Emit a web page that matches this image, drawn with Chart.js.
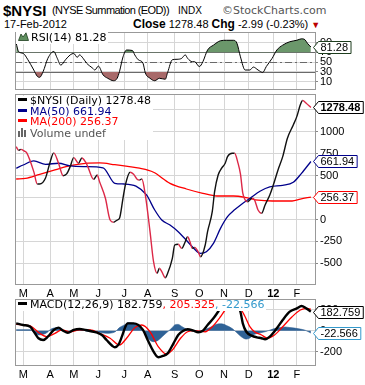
<!DOCTYPE html>
<html>
<head>
<meta charset="utf-8">
<title>$NYSI</title>
<script src="https://cdn.jsdelivr.net/npm/chart.js@4.4.1/dist/chart.umd.min.js"></script>
<style>
  html, body { margin: 0; padding: 0; background: #fff; }
  body { position: relative; width: 365px; height: 385px; overflow: hidden; font-family: Arial, "Liberation Sans", sans-serif; color: #000; }
  canvas { position: absolute; left: 0; }
  .t { position: absolute; white-space: nowrap; }
  .leg { position: absolute; background: #fff; font-family: "DejaVu Sans", Verdana, sans-serif; font-size: 11px; line-height: 10.7px; white-space: nowrap; padding-right: 2px; }
  .dash { display: inline-block; width: 9px; height: 3px; vertical-align: 3px; margin: 0 3px 0 2px; }
</style>
</head>
<body>
<div class="t" style="left:3px;top:2px;font-size:15px;font-weight:bold;">$NYSI</div>
<div class="t" style="left:52px;top:4px;font-size:11px;letter-spacing:-0.6px;">(NYSE Summation (EOD))</div>
<div class="t" style="left:178px;top:5px;font-size:10px;">INDX</div>
<div class="t" style="left:222px;top:4px;font-size:11px;color:#555;font-family:'DejaVu Sans',sans-serif;">©StockCharts.com</div>
<div class="t" style="left:4px;top:18px;font-size:11px;">17-Feb-2012</div>
<div class="t" style="left:133px;top:17px;font-size:11px;"><b style="font-size:12px">Close</b> 1278.48 <b style="font-size:12px">Chg</b> -2.99 (-0.23%) <span style="color:#b00;font-size:9px">&#9660;</span></div>

<canvas id="rsiChart" width="365" height="63" style="top:28px"></canvas>
<canvas id="mainChart" width="365" height="206" style="top:92px"></canvas>
<canvas id="macdChart" width="365" height="88" style="top:297px"></canvas>

<div class="leg" style="left:16px;top:32px;">
  <svg width="11" height="9" style="margin:0 2px 0 2px"><path d="M0.5 8.5 L3 2 L5 5 L8 0.8 L10.5 8.5 Z" fill="#5f8f5f" stroke="#1d3d1d" stroke-width="0.8"/></svg>RSI(14) 81.28
</div>
<div class="leg" style="left:16px;top:96px;">
  <div><i class="dash" style="background:#000"></i>$NYSI (Daily) 1278.48</div>
  <div style="color:#00008b"><i class="dash" style="background:#00008b"></i>MA(50) 661.94</div>
  <div style="color:#f00"><i class="dash" style="background:#f00"></i>MA(200) 256.37</div>
  <div style="color:#555"><svg width="11" height="9" style="margin:0 1px 0 2px"><rect x="0" y="3" width="2" height="6" fill="#666"/><rect x="3" y="0" width="2" height="9" fill="#666"/><rect x="6" y="2" width="2" height="7" fill="#666"/></svg>Volume undef</div>
</div>
<div class="leg" style="left:16px;top:300px;">
  <i class="dash" style="background:#000"></i>MACD(12,26,9) 182.759<span style="color:#f00">, 205.325</span><span style="color:#3399cc">, -22.566</span>
</div>

<script>
// trading-day index: 0 = 1-Mar-2011 ... 245 = 17-Feb-2012
var monthDays = [0, 23, 43, 64, 86, 106, 129, 150, 171, 192, 213, 233];
var monthLabels = ['M', 'A', 'M', 'J', 'J', 'A', 'S', 'O', 'N', 'D', '12', 'F'];

// $NYSI daily
var nysiDays = [-6, -4, -2, 1, 3, 9, 12, 14, 19, 23, 26, 30, 34, 37, 40, 43, 47, 50, 53, 55,
  60, 63, 65, 70, 74, 77, 80, 82, 85, 87, 91, 94, 97, 99, 101, 104, 108, 111, 114, 116,
  118, 121, 123, 127, 129, 132, 135, 138, 140, 142, 144, 146, 149, 151, 155, 157, 161, 163, 166, 169,
  172, 174, 178, 180, 183, 185, 187, 189, 191, 195, 197, 200, 203, 206, 210, 213, 217, 221, 225, 230,
  233, 236, 238, 241, 245];
var nysiValues = [830, 790, 800, 780, 760, 546, 405, 405, 474, 660, 760, 645, 500, 520, 603, 706, 642, 702, 657, 603,
  459, 508, 432, 242, -6, -32, -6, 14, 245, 394, 539, 516, 459, 451, 462, 280, -139, -482, -614, -557,
  -596, -665, -614, -443, -291, -283, -329, -254, -196, -254, -329, -318, -368, -425, -291, -139, 89, 317, 508, 585,
  642, 717, 756, 756, 640, 520, 300, 223, 203, 242, 223, 108, 71, 166, 280, 394, 565, 717, 927, 1079,
  1174, 1308, 1357, 1327, 1278.48];

// MA(50)
var ma50Days = [-6, 0, 9, 19, 30, 40, 53, 68, 78, 86, 96, 105, 112, 118, 125, 132, 138, 144, 151, 156,
  162, 168, 174, 180, 186, 193, 202, 210, 221, 230, 237, 245];
var ma50Values = [585, 622, 668, 630, 642, 611, 603, 590, 413, 405, 380, 280, 108, -6, -63, -139, -223, -311, -386, -368,
  -272, -101, 32, 110, 175, 240, 325, 372, 390, 425, 527, 661.94];

// MA(200)
var ma200Days = [-6, 2, 14, 27, 40, 53, 65, 78, 89, 99, 111, 125, 139, 153, 165, 179, 190, 200, 212, 229, 236, 245];
var ma200Values = [462, 470, 516, 565, 614, 640, 645, 625, 605, 585, 539, 413, 348, 299, 268, 268, 250, 220, 211, 211, 232, 256.37];

// RSI(14)
var rsiDays = [-6, -4, 0, 4, 9, 12, 14, 17, 21, 26, 29, 32, 36, 40, 43, 46, 48, 51, 54, 59,
  61, 64, 68, 72, 77, 80, 82, 85, 88, 93, 95, 98, 102, 104, 108, 112, 116, 121, 123, 127,
  131, 135, 138, 140, 144, 146, 150, 153, 157, 162, 168, 173, 179, 182, 185, 189, 193, 196, 200, 204,
  207, 212, 216, 221, 227, 233, 237, 240, 242, 245];
var rsiValues = [89, 72, 68, 55, 34, 21, 19, 31, 58, 72, 58, 44, 55, 65, 68, 60, 65, 58, 48, 38,
  34, 42, 24, 17, 12, 17, 31, 61, 75, 74, 65, 55, 48, 28, 17, 12, 17, 15, 29, 55,
  56, 58, 65, 58, 51, 51, 41, 51, 75, 85, 94, 95, 95, 89, 61, 34, 34, 40, 34, 29,
  41, 58, 75, 85, 92, 95, 98, 96, 89, 81.28];

// MACD(12,26,9)
var macdDays = [-6, 0, 6, 10, 13, 17, 21, 26, 30, 34, 38, 43, 48, 53, 57, 63, 67, 71, 76, 78,
  81, 84, 87, 89, 94, 98, 102, 106, 111, 115, 119, 123, 128, 132, 136, 140, 145, 149, 153, 157,
  162, 166, 169, 174, 179, 182, 185, 187, 190, 195, 199, 203, 206, 210, 216, 221, 227, 233, 237, 241, 245];
var macdValues = [70, 54, 38, -25, -72, -89, -57, 7, 29, 0, -19, 7, 16, 7, -3, -19, -41, -89, -146, -158,
  -136, -57, 38, 70, 70, 54, 7, -89, -200, -253, -241, -216, -120, -41, -3, 13, 0, -15, 0, 54,
  118, 181, 229, 275, 285, 260, 181, 70, -10, -50, -63, -72, -82, -57, 23, 102, 181, 213, 235, 213, 182.759];

var signalDays = [-6, 6, 14, 20, 27, 33, 40, 48, 57, 65, 74, 82, 88, 95, 101, 108, 115, 122, 127, 134,
  140, 146, 155, 161, 168, 172, 178, 183, 185, 189, 193, 197, 203, 208, 214, 221, 229, 236, 241, 245];
var signalValues = [61, 45, -25, -57, -25, 7, -10, 7, 7, -25, -72, -136, -72, 29, 54, -10, -152, -222, -184, -72,
  -10, 0, -10, 38, 133, 197, 250, 240, 213, 133, 38, -10, -41, -72, -41, 38, 133, 197, 213, 205.325];

var histDays = [-6, 6, 9, 13, 17, 20, 23, 26, 29, 31, 36, 38, 42, 46, 50, 54, 59, 63, 67, 71,
  76, 79, 82, 87, 89, 94, 98, 101, 104, 106, 111, 115, 119, 123, 127, 129, 132, 135, 139, 142,
  146, 149, 153, 156, 161, 164, 169, 173, 178, 182, 186, 190, 193, 197, 202, 206, 210, 214, 219, 223,
  227, 231, 236, 240, 245];
var histValues = [10, 10, -15, -40, -35, -20, 10, 25, 29, 15, -10, -15, 5, 10, 10, -5, -10, -15, -20, -25,
  -20, -5, 30, 60, 76, 70, 40, 10, -30, -70, -105, -90, -50, -10, 30, 55, 60, 40, 15, 5,
  -5, -10, -5, 15, 40, 60, 65, 50, 20, -20, -60, -80, -70, -35, -20, -10, 5, 20, 30, 35,
  30, 25, 15, 5, -22.566];

// axis tick values
var rsiTicks = [10, 30, 50, 70, 90];
var mainTicks = [-500, -250, 0, 250, 500, 750, 1000, 1250];
var macdTicks = [-200, 0, 200];

Chart.defaults.font.family = 'Arial, "Liberation Sans", sans-serif';
Chart.defaults.font.size = 11;
Chart.defaults.color = '#000';
Chart.defaults.animation = false;

var gridColor = '#d6d6d6';

function pts(days, vals) {
  return days.map(function (d, i) { return { x: d, y: vals[i] }; });
}
function last(arr) { return arr[arr.length - 1]; }

function xScale(showLabels, h) {
  return {
    type: 'linear', min: -7, max: 248.5,
    afterBuildTicks: function (s) { s.ticks = monthDays.map(function (d) { return { value: d }; }); },
    afterFit: function (s) { s.height = h; s.paddingLeft = 0; s.paddingRight = 0; },
    grid: { color: gridColor, drawTicks: false },
    border: { display: false },
    ticks: {
      display: showLabels, autoSkip: false, maxRotation: 0, padding: 3,
      callback: function (v, i) { return monthLabels[i]; },
      font: function (c) { return { size: 11, weight: monthLabels[c.index] === '12' ? 'bold' : 'normal' }; }
    }
  };
}

function yScale(min, max, tickVals) {
  return {
    position: 'right', min: min, max: max,
    afterBuildTicks: function (s) { s.ticks = tickVals.map(function (v) { return { value: v }; }); },
    // keep the plot box fixed: no extra room for the end labels
    afterFit: function (s) { s.width = 50; s.paddingTop = 0; s.paddingBottom = 0; },
    grid: { color: gridColor, tickLength: 3, tickColor: '#888' },
    border: { display: false },
    ticks: { padding: 2, autoSkip: false, callback: function (v) { return String(v); } }
  };
}

function drawTag(ctx, x, y, text, color, bold) {
  ctx.save();
  ctx.font = (bold ? 'bold ' : '') + '11px Arial, "Liberation Sans", sans-serif';
  var w = ctx.measureText(text).width + 5;
  var h = 12;
  y = Math.round(y) + 0.5;
  x = Math.round(x) + 0.5;
  ctx.beginPath();
  ctx.moveTo(x, y);
  ctx.lineTo(x + 5, y - h / 2);
  ctx.lineTo(x + 5 + w, y - h / 2);
  ctx.lineTo(x + 5 + w, y + h / 2);
  ctx.lineTo(x + 5, y + h / 2);
  ctx.closePath();
  ctx.fillStyle = '#fff';
  ctx.fill();
  ctx.strokeStyle = color;
  ctx.lineWidth = 1;
  ctx.stroke();
  ctx.fillStyle = '#000';
  ctx.textBaseline = 'middle';
  ctx.fillText(text, x + 7, y + 0.5);
  ctx.restore();
}

var panelPlugin = {
  id: 'panel',
  beforeDatasetsDraw: function (chart, args, opts) {
    var a = chart.chartArea, ctx = chart.ctx, ys = chart.scales.y;
    (opts.refLines || []).forEach(function (r) {
      var py = Math.round(ys.getPixelForValue(r.value)) + 0.5;
      ctx.save();
      ctx.strokeStyle = '#6a6a6a';
      ctx.lineWidth = 1;
      ctx.setLineDash(r.dash || []);
      ctx.beginPath();
      ctx.moveTo(a.left, py);
      ctx.lineTo(a.right, py);
      ctx.stroke();
      ctx.restore();
    });
  },
  afterDatasetsDraw: function (chart) {
    var a = chart.chartArea, ctx = chart.ctx;
    ctx.save();
    ctx.strokeStyle = '#999';
    ctx.lineWidth = 1;
    ctx.strokeRect(Math.round(a.left) + 0.5, Math.round(a.top) + 0.5, Math.round(a.right - a.left), Math.round(a.bottom - a.top));
    ctx.restore();
  },
  afterDraw: function (chart, args, opts) {
    var ys = chart.scales.y;
    (opts.tags || []).forEach(function (t) {
      drawTag(chart.ctx, chart.chartArea.right - 2, ys.getPixelForValue(t.value), t.text, t.color, t.bold);
    });
  }
};

function baseOptions(pad, xs, ys, panelOpts) {
  return {
    responsive: false,
    layout: { padding: pad },
    scales: { x: xs, y: ys },
    plugins: { legend: { display: false }, tooltip: { enabled: false }, panel: panelOpts },
    elements: { point: { radius: 0 }, line: { cubicInterpolationMode: 'monotone' } }
  };
}

// RSI panel
new Chart(document.getElementById('rsiChart'), {
  type: 'line',
  data: {
    datasets: [
      { data: pts(rsiDays, rsiValues), borderColor: '#000', borderWidth: 1, order: 0,
        fill: { target: { value: 70 }, above: '#6b976b', below: 'rgba(0,0,0,0)' } },
      { data: pts(rsiDays, rsiValues), borderColor: 'rgba(0,0,0,0)', borderWidth: 0, order: 1,
        fill: { target: { value: 30 }, above: 'rgba(0,0,0,0)', below: '#a86a6a' } }
    ]
  },
  options: baseOptions({ left: 15, top: 4, right: 0, bottom: 0 }, xScale(false, 2), yScale(-5, 112, rsiTicks), {
    refLines: [{ value: 70 }, { value: 30 }, { value: 50, dash: [7, 3, 2, 3] }],
    tags: [{ value: last(rsiValues), text: last(rsiValues).toFixed(2), color: '#1d3d1d' }]
  }),
  plugins: [panelPlugin]
});

// Price panel
new Chart(document.getElementById('mainChart'), {
  type: 'line',
  data: {
    datasets: [
      { data: pts(nysiDays, nysiValues), borderColor: '#000', borderWidth: 1.4, order: 0,
        segment: { borderColor: function (c) { return c.p1.parsed.y < c.p0.parsed.y ? '#dc2847' : '#111'; } } },
      { data: pts(ma50Days, ma50Values), borderColor: '#00008b', borderWidth: 1.3, order: 1 },
      { data: pts(ma200Days, ma200Values), borderColor: '#ff0000', borderWidth: 1.3, order: 2 }
    ]
  },
  options: baseOptions({ left: 15, top: 2, right: 0, bottom: 0 }, xScale(true, 14), yScale(-736, 1432, mainTicks), {
    tags: [
      { value: last(nysiValues), text: last(nysiValues).toFixed(2), color: '#000', bold: true },
      { value: last(ma50Values), text: last(ma50Values).toFixed(2), color: '#00008b' },
      { value: last(ma200Values), text: last(ma200Values).toFixed(2), color: '#ff0000' }
    ]
  }),
  plugins: [panelPlugin]
});

// MACD panel
new Chart(document.getElementById('macdChart'), {
  type: 'line',
  data: {
    datasets: [
      { data: pts(macdDays, macdValues), borderColor: '#000', borderWidth: 2.4, order: 0 },
      { data: pts(signalDays, signalValues), borderColor: '#ff0000', borderWidth: 1.3, order: 1 },
      { data: pts(histDays, histValues), borderColor: '#2c5d90', borderWidth: 0.6, order: 2,
        fill: 'origin', backgroundColor: '#2f6296' }
    ]
  },
  options: baseOptions({ left: 15, top: 2, right: 0, bottom: 0 }, xScale(true, 20), yScale(-327, 302, macdTicks), {
    tags: [
      { value: last(macdValues), text: String(last(macdValues)), color: '#000' },
      { value: last(histValues), text: String(last(histValues)), color: '#3399cc' }
    ]
  }),
  plugins: [panelPlugin]
});
</script>
</body>
</html>
